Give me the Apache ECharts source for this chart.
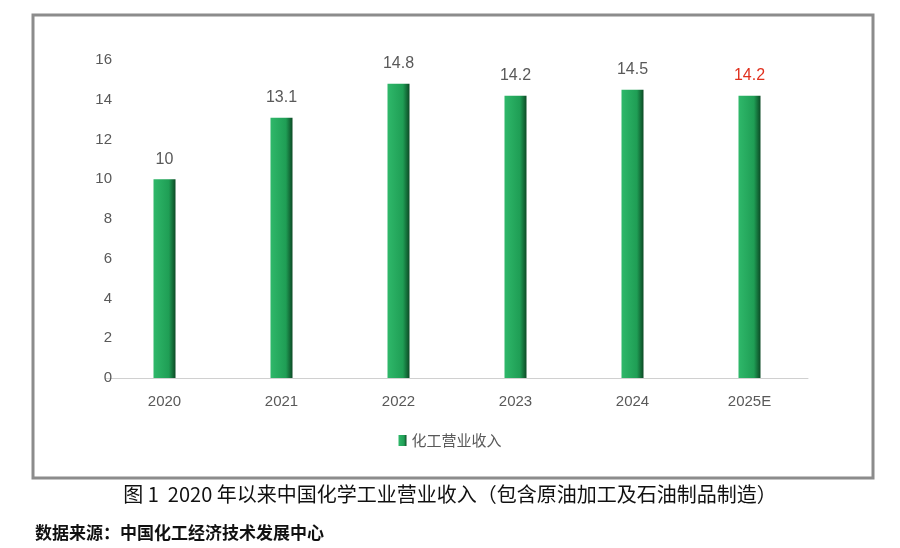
<!DOCTYPE html>
<html><head><meta charset="utf-8">
<script src="https://cdn.jsdelivr.net/npm/echarts@6/dist/echarts.min.js"></script>
<style>body{margin:0;background:#fff}#c{width:900px;height:548px}</style>
</head><body><div id="c"></div>
<script>
var years = ['2020', '2021', '2022', '2023', '2024', '2025E'];
var revenue = [10, 13.1, 14.8, 14.2, 14.5, 14.2];

var myChart = echarts.init(document.getElementById('c'));
var barColor = new echarts.graphic.LinearGradient(0, 0, 1, 0, [
  { offset: 0, color: '#2fb86a' },
  { offset: 0.7, color: '#1f9e55' },
  { offset: 1, color: '#0c4a25' }
]);
option = {
  textStyle: { fontFamily: 'Noto Sans CJK SC, sans-serif' },
  graphic: [
    { type: 'rect', shape: { x: 33, y: 15, width: 840, height: 463 }, style: { fill: 'none', stroke: '#8c8c8c', lineWidth: 3 }, z: -1 },
    { type: 'text', left: 'center', top: 484, style: { text: '图 1  2020 年以来中国化学工业营业收入（包含原油加工及石油制品制造）', fontSize: 20, fill: '#111', fontFamily: 'Noto Sans CJK SC' } },
    { type: 'text', left: 35, top: 524, style: { text: '数据来源：中国化工经济技术发展中心', fontSize: 17, fill: '#111', fontWeight: 'bold', fontFamily: 'Noto Sans CJK SC' } }
  ],
  grid: { left: 106, right: 92, top: 60, bottom: 170 },
  legend: {
    data: [{ name: '化工营业收入', icon: 'rect' }], top: 428, left: 'center',
    itemWidth: 8, itemHeight: 11, itemGap: 3,
    textStyle: { color: '#595959', fontSize: 15 }
  },
  xAxis: {
    type: 'category', data: years,
    axisLine: { lineStyle: { color: '#d0d0d0' } },
    axisTick: { show: false },
    axisLabel: { color: '#595959', fontSize: 15, margin: 16, fontFamily: 'Liberation Sans' }
  },
  yAxis: {
    type: 'value', min: 0, max: 16, interval: 2,
    axisLine: { show: false }, axisTick: { show: false },
    splitLine: { show: false },
    axisLabel: { color: '#595959', fontSize: 15, margin: -6, fontFamily: 'Liberation Sans' }
  },
  series: [{
    name: '化工营业收入', type: 'bar', barWidth: 22,
    data: revenue.map(function (v, i) {
      return { value: v, label: { color: i === revenue.length - 1 ? '#e0301e' : '#595959' } };
    }),
    itemStyle: { color: barColor },
    label: { show: true, position: 'top', distance: 12, fontSize: 16, fontFamily: 'Liberation Sans' }
  }]
};
myChart.setOption(option);
</script></body></html>
